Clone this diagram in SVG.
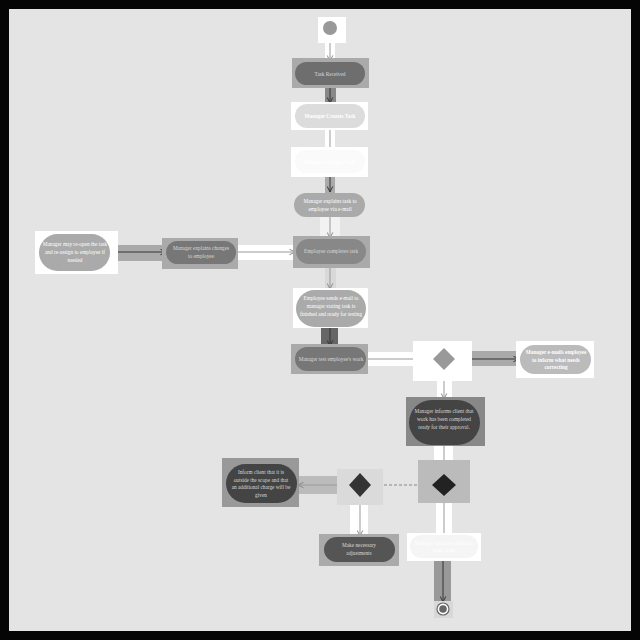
<svg xmlns="http://www.w3.org/2000/svg" width="640" height="640" viewBox="0 0 640 640">
<defs>
<marker id="ah" viewBox="0 0 10 10" refX="9" refY="5" markerWidth="7" markerHeight="7" orient="auto" markerUnits="userSpaceOnUse">
<path d="M1,1 L9,5 L1,9" fill="none" stroke="#333" stroke-width="1.4"/>
</marker>
<marker id="ahl" viewBox="0 0 10 10" refX="9" refY="5" markerWidth="7" markerHeight="7" orient="auto" markerUnits="userSpaceOnUse">
<path d="M1,1 L9,5 L1,9" fill="none" stroke="#888" stroke-width="1.4"/>
</marker>
</defs>
<style>
text{font-family:"Liberation Serif","Times New Roman",serif;font-size:5.3px;text-anchor:middle}
.lt{fill:#d8d8d8}
.wt{fill:#ffffff}
.bt{fill:#ffffff;font-weight:bold}
.ln{fill:none;stroke:#333;stroke-width:1}
.lg{fill:none;stroke:#999;stroke-width:1}
</style>
<rect x="0" y="0" width="640" height="640" fill="#050505"/>
<rect x="9" y="9" width="622" height="622" fill="#e4e4e4"/>

<g id="connectors">
<rect x="325" y="42" width="10" height="20" fill="#fff"/>
<line class="lg" x1="330" y1="42" x2="330" y2="61" marker-end="url(#ahl)"/>
<rect x="325" y="85" width="11" height="20" fill="#888"/>
<line class="ln" x1="330" y1="85" x2="330" y2="103" marker-end="url(#ah)"/>
<rect x="325" y="128" width="10" height="19" fill="#fff"/>
<line class="lg" x1="330" y1="128" x2="330" y2="147"/>
<rect x="325" y="172" width="10" height="21" fill="#aaa"/>
<line class="ln" x1="330" y1="172" x2="330" y2="192" marker-end="url(#ah)"/>
<rect x="320" y="217" width="20" height="22" fill="#f2f2f2"/>
<line class="lg" x1="330" y1="217" x2="330" y2="238" marker-end="url(#ahl)"/>
<rect x="325" y="264" width="11" height="26" fill="#d8d8d8"/>
<line class="lg" x1="330" y1="264" x2="330" y2="289" marker-end="url(#ahl)"/>
<rect x="321" y="327" width="17" height="21" fill="#666"/>
<line class="ln" x1="330" y1="327" x2="330" y2="346" stroke="#111" marker-end="url(#ah)"/>
<rect x="366" y="352" width="47" height="14" fill="#fff"/>
<line class="lg" x1="366" y1="359" x2="413" y2="359"/>
<rect x="472" y="351" width="48" height="15" fill="#aaa"/>
<line class="ln" x1="455" y1="359" x2="519" y2="359" marker-end="url(#ah)"/>
<rect x="108" y="245" width="59" height="16" fill="#aaa"/>
<line class="ln" x1="108" y1="252" x2="166" y2="252" marker-end="url(#ah)"/>
<rect x="237" y="245" width="59" height="15" fill="#fff"/>
<line class="lg" x1="237" y1="252" x2="295" y2="252" marker-end="url(#ahl)"/>
<rect x="437" y="381" width="15" height="19" fill="#fff"/>
<line class="lg" x1="444" y1="370" x2="444" y2="399" marker-end="url(#ahl)"/>
<rect x="434" y="446" width="19" height="14" fill="#fff"/>
<line class="lg" x1="444" y1="446" x2="444" y2="473" marker-end="url(#ahl)"/>
<line x1="432" y1="485" x2="372" y2="485" fill="none" stroke="#888" stroke-width="1" stroke-dasharray="3,2" marker-end="url(#ahl)"/>
<rect x="298" y="476" width="50" height="18" fill="#bbb"/>
<line class="lg" x1="349" y1="485" x2="298" y2="485" stroke="#777" marker-end="url(#ahl)"/>
<rect x="350" y="496" width="18" height="39" fill="#fff"/>
<line class="lg" x1="360" y1="496" x2="360" y2="536" marker-end="url(#ahl)"/>
<rect x="436" y="496" width="16" height="37" fill="#fff"/>
<line class="lg" x1="444" y1="496" x2="444" y2="534"/>
<rect x="434" y="560" width="17" height="42" fill="#999"/>
<line class="ln" x1="443" y1="560" x2="443" y2="602" marker-end="url(#ah)"/>
</g>

<g id="start">
<rect x="318" y="17" width="28" height="26" fill="#fff"/>
<circle cx="330" cy="28" r="7" fill="#999"/>
</g>

<g id="task-received">
<rect x="292" y="58" width="77" height="30" fill="#aaa"/>
<rect x="295" y="62" width="70" height="23" rx="11.5" fill="#6e6e6e"/>
<text class="lt" x="330" y="75.5">Task Received</text>
</g>

<g id="manager-creates-task">
<rect x="291" y="102" width="77" height="28" fill="#fff"/>
<rect x="295" y="104" width="70" height="24" rx="12" fill="#dcdcdc"/>
<text class="bt" x="330" y="118">Manager Creates Task</text>
</g>

<g id="manager-assigns-task">
<rect x="291" y="147" width="77" height="30" fill="#fff"/>
<rect x="295" y="150" width="70" height="23" rx="11.5" fill="#fafafa"/>
<text class="bt" x="330" y="163.5">Manager Assigns Task</text>
</g>

<g id="manager-explains-task">
<rect x="294" y="193" width="71" height="24" rx="12" fill="#aaa"/>
<text class="wt" x="330" y="203">Manager explains task to</text>
<text class="wt" x="330" y="211">employee via e-mail</text>
</g>

<g id="employee-completes-task">
<rect x="293" y="236" width="77" height="32" fill="#aaa"/>
<rect x="296" y="239" width="70" height="25" rx="12.5" fill="#888"/>
<text class="lt" x="331" y="253">Employee completes task</text>
</g>

<g id="employee-sends-email">
<rect x="293" y="288" width="75" height="40" fill="#fff"/>
<rect x="296" y="290" width="70" height="37" rx="18.5" fill="#aaa"/>
<text class="wt" x="331" y="300">Employee sends e-mail to</text>
<text class="wt" x="331" y="308">manager stating task is</text>
<text class="wt" x="331" y="316">finished and ready for testing</text>
</g>

<g id="manager-tests-work">
<rect x="291" y="344" width="77" height="30" fill="#aaa"/>
<rect x="295" y="347" width="71" height="24" rx="12" fill="#777"/>
<text class="lt" x="331" y="361">Manager test employee's work</text>
</g>

<g id="decision-test">
<rect x="413" y="341" width="59" height="40" fill="#fff"/>
<polygon points="444,348 455,359 444,370 433,359" fill="#999"/>
</g>

<g id="manager-emails-employee">
<rect x="516" y="341" width="78" height="37" fill="#fff"/>
<rect x="520" y="345" width="71" height="29" rx="14.5" fill="#bbb"/>
<text class="bt" x="556" y="354">Manager e-mails employee</text>
<text class="bt" x="556" y="361.5">to inform what needs</text>
<text class="bt" x="556" y="369">correcting</text>
</g>

<g id="manager-reopens">
<rect x="35" y="231" width="83" height="43" fill="#fff"/>
<rect x="39" y="234" width="71" height="37" rx="18.5" fill="#aaa"/>
<text class="wt" x="75" y="246">Manager may re-open the task</text>
<text class="wt" x="75" y="254">and re-assign to employee if</text>
<text class="wt" x="75" y="262">needed</text>
</g>

<g id="manager-explains-changes">
<rect x="162" y="238" width="76" height="31" fill="#aaa"/>
<rect x="166" y="241" width="70" height="23" rx="11.5" fill="#777"/>
<text class="lt" x="201" y="250">Manager explains changes</text>
<text class="lt" x="201" y="258">to employee</text>
</g>

<g id="manager-informs-client">
<rect x="406" y="397" width="79" height="49" fill="#888"/>
<rect x="409" y="400" width="71" height="45" rx="22.5" fill="#444"/>
<text class="lt" x="444" y="413">Manager informs client that</text>
<text class="lt" x="444" y="421">work has been completed</text>
<text class="lt" x="444" y="429">ready for their approval.</text>
</g>

<g id="decision-approval">
<rect x="418" y="460" width="52" height="43" fill="#bbb"/>
<polygon points="444,474 456,485 444,496 432,485" fill="#222"/>
</g>

<g id="decision-scope">
<rect x="337" y="469" width="46" height="36" fill="#dadada"/>
<polygon points="360,473 371,485 360,497 349,485" fill="#333"/>
</g>

<g id="inform-client-scope">
<rect x="222" y="458" width="77" height="49" fill="#999"/>
<rect x="226" y="464" width="71" height="39" rx="19.5" fill="#444"/>
<text class="lt" x="261" y="474">Inform client that it is</text>
<text class="lt" x="261" y="481.5">outside the scope and that</text>
<text class="lt" x="261" y="489">an additional charge will be</text>
<text class="lt" x="261" y="496.5">given</text>
</g>

<g id="make-adjustments">
<rect x="319" y="534" width="80" height="32" fill="#aaa"/>
<rect x="324" y="537" width="71" height="25" rx="12.5" fill="#555"/>
<text class="lt" x="359" y="547">Make necessary</text>
<text class="lt" x="359" y="555">adjustments</text>
</g>

<g id="manager-invoices">
<rect x="407" y="533" width="74" height="28" fill="#fff"/>
<rect x="410" y="535" width="68" height="23" rx="11.5" fill="#f5f5f5"/>
<text class="wt" x="444" y="545">Manager invoices client for</text>
<text class="wt" x="444" y="552">work done</text>
</g>

<g id="end">
<rect x="434" y="601" width="19" height="17" fill="#d8d8d8"/>
<circle cx="443" cy="609" r="6" fill="#fff" stroke="#666" stroke-width="1.2"/>
<circle cx="443" cy="609" r="3.8" fill="#666"/>
</g>
</svg>
